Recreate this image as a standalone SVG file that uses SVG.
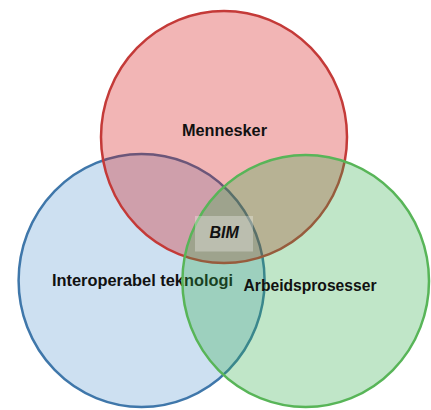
<svg xmlns="http://www.w3.org/2000/svg" width="431" height="410" viewBox="0 0 431 410">
  <style>
    .set { stroke-width: 2.5; }
    .label { font-family: "Liberation Sans", Arial, sans-serif; font-size: 16px; font-weight: bold; fill: #111; }
    .core { font-style: italic; }
  </style>
  <rect width="431" height="410" fill="#ffffff"/>

  <!-- Interoperable technology (bottom left) -->
  <g id="teknologi">
    <ellipse class="set" cx="141.6" cy="280.5" rx="123" ry="126.5" fill="rgb(88,152,208)" fill-opacity="0.3" stroke="#3f77aa"/>
    <text class="label" x="52" y="286" textLength="181" lengthAdjust="spacingAndGlyphs">Interoperabel teknologi</text>
  </g>

  <!-- People (top) -->
  <g id="mennesker">
    <ellipse class="set" cx="224" cy="137" rx="123" ry="126" fill="rgb(212,10,10)" fill-opacity="0.3" stroke="#c43a38"/>
    <text class="label" x="182" y="135.5" textLength="85" lengthAdjust="spacingAndGlyphs">Mennesker</text>
  </g>

  <!-- Work processes (bottom right) -->
  <g id="arbeidsprosesser">
    <ellipse class="set" cx="305.7" cy="281" rx="123.3" ry="126" fill="rgb(45,172,72)" fill-opacity="0.3" stroke="#58b558"/>
    <text class="label" x="243.5" y="291" textLength="133" lengthAdjust="spacingAndGlyphs">Arbeidsprosesser</text>
  </g>

  <!-- Shared centre -->
  <g id="bim">
    <rect x="195" y="216" width="58" height="35.5" fill="#ffffff" fill-opacity="0.3"/>
    <text class="label core" x="209.5" y="237.5">BIM</text>
  </g>
</svg>
